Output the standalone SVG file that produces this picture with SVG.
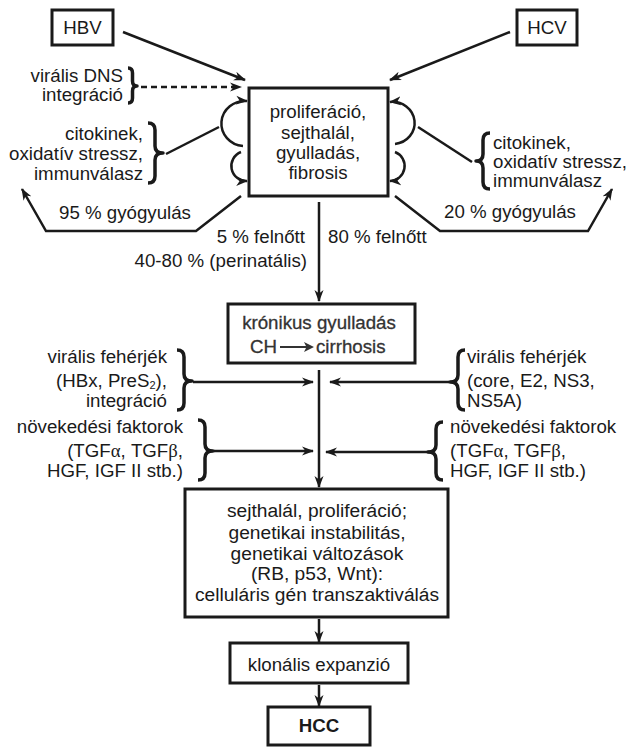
<svg xmlns="http://www.w3.org/2000/svg" width="628" height="747" viewBox="0 0 628 747">
<style>
text{font-family:"Liberation Sans",Arial,sans-serif;font-size:18.7px;fill:#1a1a1a}
.m{text-anchor:middle}.e{text-anchor:end}
.box{fill:#fff;stroke:#1a1a1a;stroke-width:3}
.ln{fill:none;stroke:#1a1a1a;stroke-width:2.5}
.br{fill:none;stroke:#1a1a1a;stroke-width:3.5;stroke-linejoin:round}
.gr{font-family:"Liberation Serif",serif}
.big{font-size:19.2px}
.kr{fill:#333;stroke:#333;stroke-width:0.3}
</style>
<defs>
<marker id="ah" viewBox="0 0 12 10" refX="11" refY="5" markerWidth="12" markerHeight="10" markerUnits="userSpaceOnUse" orient="auto">
<path d="M0,0.5 L12,5 L0,9.5 L3.5,5 z" fill="#1a1a1a"/>
</marker>
</defs>

<g id="connectors">
<path class="ln" d="M123,32 L245,80" marker-end="url(#ah)"/>
<path class="ln" d="M510,32 L390,80" marker-end="url(#ah)"/>
<path class="ln" d="M141,87 L241,87" stroke-dasharray="6,4" marker-end="url(#ah)"/>
<path class="ln" d="M243,146 A23,22 0 0 1 247,101" marker-end="url(#ah)"/>
<path class="ln" d="M241,152 A15,15 0 0 0 247,181" marker-end="url(#ah)"/>
<path class="ln" d="M166,154 L219,127"/>
<path class="ln" d="M395,144 A22,21 0 0 0 390,102" marker-end="url(#ah)"/>
<path class="ln" d="M395,152 A15,15 0 0 1 390,181" marker-end="url(#ah)"/>
<path class="ln" d="M418,127 L472,162"/>
<path class="ln" d="M241,196 L196,231 L46,231 L22,189" marker-end="url(#ah)"/>
<path class="ln" d="M395,196 L440,231 L588,231 L612,189" marker-end="url(#ah)"/>
<path class="ln" d="M319,202 L319,301" marker-end="url(#ah)"/>
<path class="ln" d="M319,370 L319,487" marker-end="url(#ah)"/>
<path class="ln" d="M193,382 L313,382" marker-end="url(#ah)"/>
<path class="ln" d="M214,451 L313,451" marker-end="url(#ah)"/>
<path class="ln" d="M449,382 L330,382" marker-end="url(#ah)"/>
<path class="ln" d="M429,452 L326,452" marker-end="url(#ah)"/>
<path class="ln" d="M319,619 L319,642" marker-end="url(#ah)"/>
<path class="ln" d="M319,685 L319,706" marker-end="url(#ah)"/>
</g>

<g id="hbv"><rect class="box" x="52" y="10" width="61" height="35"/><text class="m" x="82.5" y="34">HBV</text></g>
<g id="hcv"><rect class="box" x="517" y="10" width="60" height="35"/><text class="m" x="547" y="34">HCV</text></g>

<g id="dns">
<text class="e" x="123" y="82">virális DNS</text>
<text class="e" x="123" y="101">integráció</text>
<path class="br" d="M128,68 Q132.5,68 132.5,73 L132.5,81 Q132.5,86 137,86 Q132.5,86 132.5,91 L132.5,98 Q132.5,103 128,103"/>
</g>

<g id="cito-left">
<text class="e" x="143" y="140">citokinek,</text>
<text class="e" x="143" y="160">oxidatív stressz,</text>
<text class="e" x="143" y="180">immunválasz</text>
<path class="br" d="M148,123 Q155,123 155,130 L155,146 Q155,153 163,153 Q155,153 155,160 L155,176 Q155,183 148,183"/>
</g>

<g id="cito-right">
<path class="br" d="M490,133 Q483,133 483,140 L483,154 Q483,161 476,161 Q483,161 483,168 L483,182 Q483,189 490,189"/>
<text x="493" y="149">citokinek,</text>
<text x="493" y="168">oxidatív stressz,</text>
<text x="493" y="187">immunválasz</text>
</g>

<g id="center">
<rect class="box" x="249" y="88" width="139" height="108"/>
<text class="m" x="318" y="118">proliferáció,</text>
<text class="m" x="318" y="139">sejthalál,</text>
<text class="m" x="318" y="159">gyulladás,</text>
<text class="m" x="318" y="179">fibrosis</text>
</g>

<g id="labels">
<text class="m" x="125" y="219">95 % gyógyulás</text>
<text class="m" x="510" y="218">20 % gyógyulás</text>
<text class="e" x="305" y="243">5 % felnőtt</text>
<text x="328" y="243">80 % felnőtt</text>
<text class="e" x="307" y="267">40-80 % (perinatális)</text>
</g>

<g id="kronikus">
<rect class="box" x="228" y="304" width="187" height="59"/>
<text class="m kr" x="319" y="329">krónikus gyulladás</text>
<text class="kr" x="250" y="353">CH</text>
<path d="M280,347 L312,347" stroke="#333" stroke-width="2" fill="none"/>
<path d="M304,342 L314,347 L304,352 L306.5,347 z" fill="#333"/>
<text class="kr" x="316" y="353">cirrhosis</text>
</g>

<g id="viral-left">
<text class="e" x="167" y="363">virális fehérjék</text>
<text class="e" x="167" y="387">(HBx, PreS<tspan font-size="11" dy="2">2</tspan><tspan dy="-2">),</tspan></text>
<text class="e" x="167" y="407">integráció</text>
<path class="br" d="M177,350 Q184,350 184,357 L184,374 Q184,381 192,381 Q184,381 184,388 L184,403 Q184,410 177,410"/>
</g>

<g id="growth-left">
<text class="e" x="183" y="433">növekedési faktorok</text>
<text class="e" x="183" y="457">(TGF<tspan class="gr">α</tspan>, TGF<tspan class="gr">β</tspan>,</text>
<text class="e" x="183" y="477">HGF, IGF II stb.)</text>
<path class="br" d="M198,420 Q205,420 205,427 L205,444 Q205,451 213,451 Q205,451 205,458 L205,473 Q205,480 198,480"/>
</g>

<g id="viral-right">
<path class="br" d="M465,350 Q458,350 458,357 L458,375 Q458,382 450,382 Q458,382 458,389 L458,403 Q458,410 465,410"/>
<text x="467" y="363">virális fehérjék</text>
<text x="467" y="387">(core, E2, NS3,</text>
<text x="467" y="407">NS5A)</text>
</g>

<g id="growth-right">
<path class="br" d="M443,422 Q436,422 436,429 L436,445 Q436,452 428,452 Q436,452 436,459 L436,473 Q436,480 443,480"/>
<text x="450" y="433">növekedési faktorok</text>
<text x="450" y="457">(TGF<tspan class="gr">α</tspan>, TGF<tspan class="gr">β</tspan>,</text>
<text x="450" y="477">HGF, IGF II stb.)</text>
</g>

<g id="genetic">
<rect class="box" x="185" y="489" width="263" height="128"/>
<text class="m big" x="317" y="517">sejthalál, proliferáció;</text>
<text class="m big" x="317" y="539">genetikai instabilitás,</text>
<text class="m big" x="317" y="560">genetikai változások</text>
<text class="m big" x="317" y="580">(RB, p53, Wnt):</text>
<text class="m big" x="317" y="601">celluláris gén transzaktiválás</text>
</g>

<g id="klonalis">
<rect class="box" x="230" y="643" width="178" height="40"/>
<text class="m" x="319" y="671">klonális expanzió</text>
</g>

<g id="hcc">
<rect class="box" x="268" y="707" width="102" height="38"/>
<text class="m" x="319" y="732" font-weight="bold">HCC</text>
</g>
</svg>
